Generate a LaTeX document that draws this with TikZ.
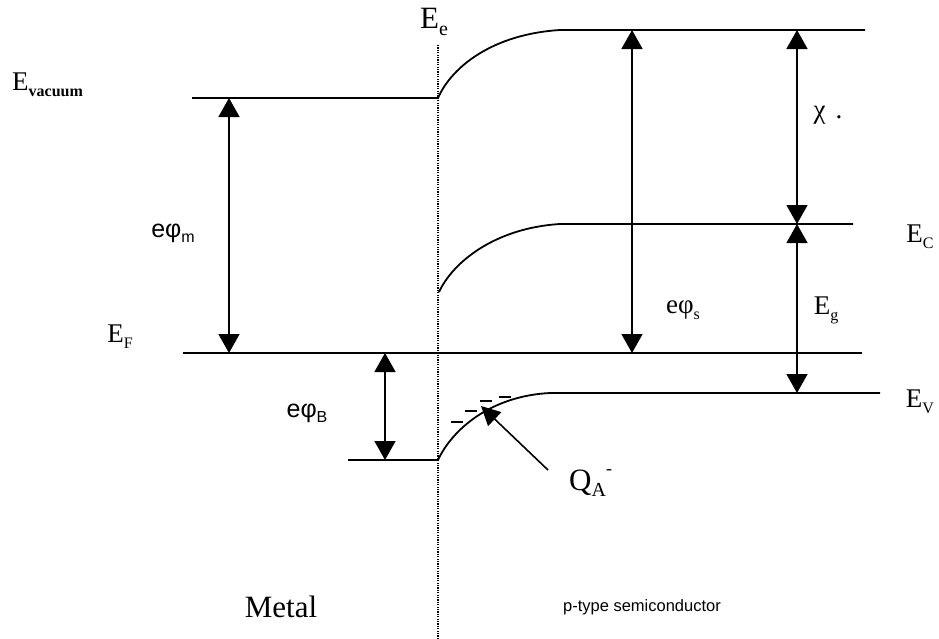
\documentclass[tikz,border=0pt]{standalone}
\usepackage{fontspec}
\setmainfont{Liberation Serif}
\newfontfamily\arialf{Liberation Sans}
\usetikzlibrary{arrows.meta}
\newcommand{\lsub}[1]{\raisebox{-0.22em}{\fontsize{16}{16}\selectfont #1}}
\newcommand{\bsub}[1]{\raisebox{-0.2em}{\fontsize{20}{20}\selectfont #1}}
\begin{document}
\begin{tikzpicture}[x=1pt,y=-1pt,
  level/.style={line width=1.8pt},
  dbl/.style={line width=1.5pt,{Triangle[length=19pt,width=21pt]}-{Triangle[length=19pt,width=21pt]}},
  lbl/.style={font=\fontsize{27}{30}\selectfont,inner sep=0pt},
  slbl/.style={font=\arialf\fontsize{25}{30}\selectfont,inner sep=0pt},
  minus/.style={line width=2.6pt}]
\useasboundingbox (0,0) rectangle (939,638);
% coordinates
\coordinate (vacL) at (192,98);
\coordinate (vacR) at (438,98);
\coordinate (topE) at (560,30);
\coordinate (topR) at (865,30);
\coordinate (cbS) at (439,292);
\coordinate (cbE) at (560,224);
\coordinate (cbR) at (853,224);
\coordinate (efL) at (183,353);
\coordinate (efR) at (862,353);
\coordinate (vbS) at (438,460);
\coordinate (vbE) at (550,393);
\coordinate (vbR) at (880,393);
\coordinate (mL) at (348,460);
\coordinate (dotT) at (438,45);
\coordinate (dotB) at (438,638);
% dotted interface
\draw[line width=1.5pt,dash pattern=on 1.2pt off 1.2pt] (dotT) -- (dotB);
% levels
\draw[level] (vacL) -- (vacR) .. controls (452,66) and (494,34) .. (topE) -- (topR);
\draw[level] (cbS) .. controls (453,262) and (495,228) .. (cbE) -- (cbR);
\draw[level] (efL) -- (efR);
\draw[level] (mL) -- (vbS) .. controls (452,430) and (490,396) .. (vbE) -- (vbR);
% double arrows
\coordinate (m1) at (229,98);  \coordinate (m2) at (229,353);
\coordinate (s1) at (632,30);  \coordinate (s2) at (632,353);
\coordinate (c1) at (797,30);  \coordinate (c2) at (797,224);
\coordinate (g1) at (797,224); \coordinate (g2) at (797,393);
\coordinate (b1) at (385,353); \coordinate (b2) at (385,460);
\draw[dbl] (m1) -- (m2);
\draw[dbl] (s1) -- (s2);
\draw[dbl] (c1) -- (c2);
\draw[dbl] (g1) -- (g2);
\draw[dbl] (b1) -- (b2);
% minus signs
\draw[minus] (451,422) -- (463,422);
\draw[minus] (465,411) -- (477,411);
\draw[minus] (480,401) -- (492,401);
\draw[minus] (499,397) -- (511,397);
% Q_A arrow
\coordinate (qS) at (548,470);
\coordinate (qT) at (481,406);
\draw[line width=1.6pt,-{Triangle[length=19pt,width=19pt]}] (qS) -- (qT);
% labels
\node[lbl,font=\fontsize{31}{34}\selectfont] (Ee) at (434,22) {E\bsub{e}};
\node[lbl,anchor=west] (Evac) at (12,85) {E\lsub{\textbf{vacuum}}};
\node[lbl] (EF) at (120,337) {E\lsub{F}};
\node[slbl] (ephim) at (173,233) {eφ\lsub{\arialf m}};
\node[slbl] (ephiB) at (307,413) {eφ\lsub{\arialf B}};
\node[lbl] (ephis) at (683,310) {eφ\lsub{s}};
\node[lbl] (Eg) at (826,310) {E\lsub{g}};
\node[lbl] (chi) at (828,115) {χ\hspace{10pt}.};
\node[lbl] (EC) at (920,237) {E\lsub{C}};
\node[lbl] (EV) at (920,402) {E\lsub{V}};
\node[lbl,anchor=west,font=\fontsize{31}{34}\selectfont] (QA) at (569,483) {Q\bsub{A}\raisebox{0.5em}{\fontsize{18}{18}\selectfont -}};
\node[lbl,font=\fontsize{31}{34}\selectfont] (metal) at (281,607) {Metal};
\node[inner sep=0pt,font=\arialf\fontsize{16.5}{20}\selectfont] (ptype) at (642,607) {p-type semiconductor};
\end{tikzpicture}
\end{document}
